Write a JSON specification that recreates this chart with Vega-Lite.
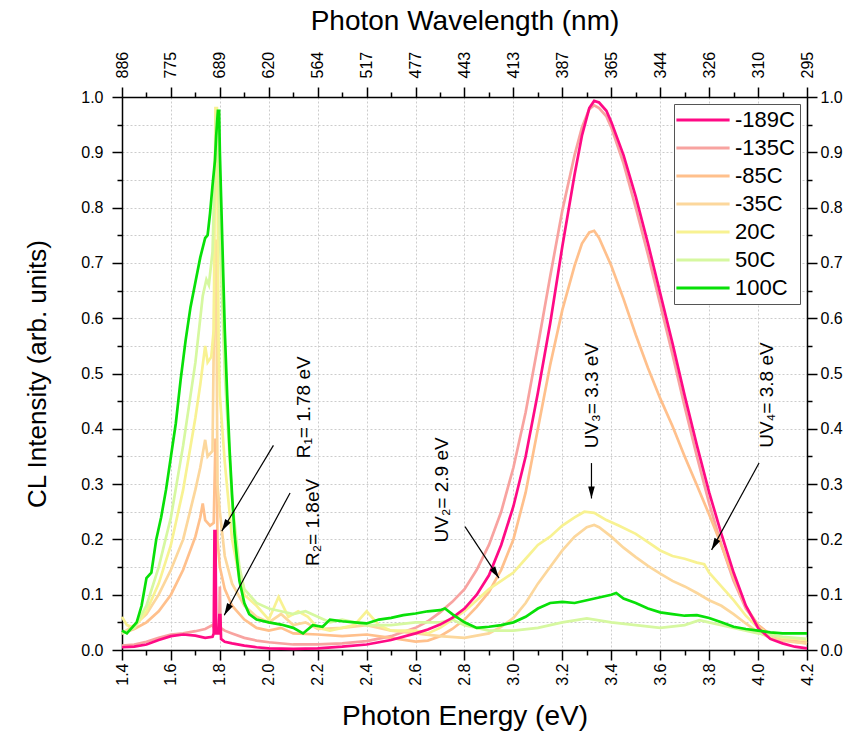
{
 "$schema": "https://vega.github.io/schema/vega-lite/v6.json",
 "width": 685,
 "height": 553,
 "autosize": {"type": "none"},
 "padding": {"left": 122, "top": 97, "right": 46, "bottom": 83},
 "background": "white",
 "config": {
  "font": "Liberation Sans",
  "view": {"stroke": null},
  "axis": {"labelFont": "Liberation Sans", "titleFont": "Liberation Sans", "labelColor": "black", "titleColor": "black", "titleFontWeight": "normal", "domainColor": "black", "tickColor": "black", "labelFontSize": 16, "grid": false, "domainWidth": 1.5, "tickWidth": 1.5, "zindex": 1}
 },
 "datasets": {
  "spectra": [
   {"s":"-135C","e":1.40,"i":0.008},{"s":"-135C","e":1.45,"i":0.010},{"s":"-135C","e":1.50,"i":0.015},{"s":"-135C","e":1.55,"i":0.022},{"s":"-135C","e":1.60,"i":0.028},{"s":"-135C","e":1.65,"i":0.030},{"s":"-135C","e":1.70,"i":0.034},{"s":"-135C","e":1.74,"i":0.038},{"s":"-135C","e":1.77,"i":0.045},{"s":"-135C","e":1.78,"i":0.036},{"s":"-135C","e":1.79,"i":0.040},{"s":"-135C","e":1.797,"i":0.040},{"s":"-135C","e":1.80,"i":0.115},{"s":"-135C","e":1.803,"i":0.040},{"s":"-135C","e":1.82,"i":0.035},{"s":"-135C","e":1.85,"i":0.030},{"s":"-135C","e":1.90,"i":0.022},{"s":"-135C","e":1.95,"i":0.017},{"s":"-135C","e":2.00,"i":0.014},{"s":"-135C","e":2.10,"i":0.010},{"s":"-135C","e":2.20,"i":0.010},{"s":"-135C","e":2.30,"i":0.012},{"s":"-135C","e":2.40,"i":0.016},{"s":"-135C","e":2.50,"i":0.025},{"s":"-135C","e":2.60,"i":0.040},{"s":"-135C","e":2.65,"i":0.052},{"s":"-135C","e":2.70,"i":0.068},{"s":"-135C","e":2.75,"i":0.087},{"s":"-135C","e":2.80,"i":0.110},{"s":"-135C","e":2.85,"i":0.145},{"s":"-135C","e":2.90,"i":0.190},{"s":"-135C","e":2.95,"i":0.250},{"s":"-135C","e":3.00,"i":0.330},{"s":"-135C","e":3.05,"i":0.430},{"s":"-135C","e":3.10,"i":0.550},{"s":"-135C","e":3.15,"i":0.675},{"s":"-135C","e":3.20,"i":0.795},{"s":"-135C","e":3.25,"i":0.895},{"s":"-135C","e":3.28,"i":0.945},{"s":"-135C","e":3.31,"i":0.978},{"s":"-135C","e":3.33,"i":0.985},{"s":"-135C","e":3.35,"i":0.980},{"s":"-135C","e":3.38,"i":0.965},{"s":"-135C","e":3.40,"i":0.945},{"s":"-135C","e":3.45,"i":0.880},{"s":"-135C","e":3.50,"i":0.800},{"s":"-135C","e":3.55,"i":0.715},{"s":"-135C","e":3.60,"i":0.625},{"s":"-135C","e":3.65,"i":0.535},{"s":"-135C","e":3.70,"i":0.440},{"s":"-135C","e":3.75,"i":0.350},{"s":"-135C","e":3.80,"i":0.265},{"s":"-135C","e":3.85,"i":0.190},{"s":"-135C","e":3.90,"i":0.125},{"s":"-135C","e":3.95,"i":0.075},{"s":"-135C","e":4.00,"i":0.045},{"s":"-135C","e":4.05,"i":0.028},{"s":"-135C","e":4.10,"i":0.020},{"s":"-135C","e":4.15,"i":0.016},{"s":"-135C","e":4.20,"i":0.013},

   {"s":"-85C","e":1.40,"i":0.030},{"s":"-85C","e":1.45,"i":0.038},{"s":"-85C","e":1.50,"i":0.050},{"s":"-85C","e":1.55,"i":0.070},{"s":"-85C","e":1.60,"i":0.100},{"s":"-85C","e":1.65,"i":0.145},{"s":"-85C","e":1.70,"i":0.205},{"s":"-85C","e":1.72,"i":0.240},{"s":"-85C","e":1.73,"i":0.265},{"s":"-85C","e":1.74,"i":0.235},{"s":"-85C","e":1.76,"i":0.225},{"s":"-85C","e":1.775,"i":0.230},{"s":"-85C","e":1.782,"i":0.380},{"s":"-85C","e":1.787,"i":0.380},{"s":"-85C","e":1.79,"i":0.200},{"s":"-85C","e":1.80,"i":0.150},{"s":"-85C","e":1.82,"i":0.110},{"s":"-85C","e":1.85,"i":0.080},{"s":"-85C","e":1.90,"i":0.055},{"s":"-85C","e":1.95,"i":0.040},{"s":"-85C","e":2.00,"i":0.035},{"s":"-85C","e":2.05,"i":0.040},{"s":"-85C","e":2.10,"i":0.030},{"s":"-85C","e":2.20,"i":0.028},{"s":"-85C","e":2.30,"i":0.025},{"s":"-85C","e":2.40,"i":0.028},{"s":"-85C","e":2.50,"i":0.022},{"s":"-85C","e":2.60,"i":0.015},{"s":"-85C","e":2.65,"i":0.017},{"s":"-85C","e":2.70,"i":0.025},{"s":"-85C","e":2.75,"i":0.038},{"s":"-85C","e":2.80,"i":0.055},{"s":"-85C","e":2.85,"i":0.078},{"s":"-85C","e":2.90,"i":0.105},{"s":"-85C","e":2.95,"i":0.145},{"s":"-85C","e":3.00,"i":0.200},{"s":"-85C","e":3.05,"i":0.285},{"s":"-85C","e":3.10,"i":0.400},{"s":"-85C","e":3.15,"i":0.515},{"s":"-85C","e":3.20,"i":0.615},{"s":"-85C","e":3.25,"i":0.695},{"s":"-85C","e":3.28,"i":0.735},{"s":"-85C","e":3.31,"i":0.755},{"s":"-85C","e":3.33,"i":0.758},{"s":"-85C","e":3.35,"i":0.745},{"s":"-85C","e":3.40,"i":0.695},{"s":"-85C","e":3.45,"i":0.635},{"s":"-85C","e":3.50,"i":0.570},{"s":"-85C","e":3.55,"i":0.510},{"s":"-85C","e":3.60,"i":0.455},{"s":"-85C","e":3.65,"i":0.405},{"s":"-85C","e":3.70,"i":0.350},{"s":"-85C","e":3.75,"i":0.298},{"s":"-85C","e":3.80,"i":0.245},{"s":"-85C","e":3.85,"i":0.190},{"s":"-85C","e":3.90,"i":0.130},{"s":"-85C","e":3.95,"i":0.078},{"s":"-85C","e":4.00,"i":0.045},{"s":"-85C","e":4.05,"i":0.028},{"s":"-85C","e":4.10,"i":0.020},{"s":"-85C","e":4.15,"i":0.015},{"s":"-85C","e":4.20,"i":0.012},

   {"s":"-35C","e":1.40,"i":0.030},{"s":"-35C","e":1.45,"i":0.045},{"s":"-35C","e":1.50,"i":0.065},{"s":"-35C","e":1.55,"i":0.100},{"s":"-35C","e":1.60,"i":0.145},{"s":"-35C","e":1.65,"i":0.200},{"s":"-35C","e":1.70,"i":0.290},{"s":"-35C","e":1.72,"i":0.330},{"s":"-35C","e":1.74,"i":0.380},{"s":"-35C","e":1.75,"i":0.350},{"s":"-35C","e":1.77,"i":0.360},{"s":"-35C","e":1.78,"i":0.740},{"s":"-35C","e":1.785,"i":0.740},{"s":"-35C","e":1.79,"i":0.300},{"s":"-35C","e":1.80,"i":0.250},{"s":"-35C","e":1.82,"i":0.170},{"s":"-35C","e":1.85,"i":0.120},{"s":"-35C","e":1.90,"i":0.080},{"s":"-35C","e":1.95,"i":0.060},{"s":"-35C","e":2.00,"i":0.050},{"s":"-35C","e":2.05,"i":0.065},{"s":"-35C","e":2.10,"i":0.045},{"s":"-35C","e":2.15,"i":0.050},{"s":"-35C","e":2.20,"i":0.038},{"s":"-35C","e":2.30,"i":0.040},{"s":"-35C","e":2.40,"i":0.045},{"s":"-35C","e":2.50,"i":0.035},{"s":"-35C","e":2.60,"i":0.030},{"s":"-35C","e":2.70,"i":0.025},{"s":"-35C","e":2.80,"i":0.022},{"s":"-35C","e":2.90,"i":0.030},{"s":"-35C","e":2.95,"i":0.042},{"s":"-35C","e":3.00,"i":0.058},{"s":"-35C","e":3.05,"i":0.085},{"s":"-35C","e":3.10,"i":0.120},{"s":"-35C","e":3.15,"i":0.150},{"s":"-35C","e":3.20,"i":0.180},{"s":"-35C","e":3.25,"i":0.205},{"s":"-35C","e":3.30,"i":0.222},{"s":"-35C","e":3.33,"i":0.226},{"s":"-35C","e":3.35,"i":0.222},{"s":"-35C","e":3.40,"i":0.205},{"s":"-35C","e":3.45,"i":0.185},{"s":"-35C","e":3.50,"i":0.168},{"s":"-35C","e":3.55,"i":0.152},{"s":"-35C","e":3.60,"i":0.138},{"s":"-35C","e":3.65,"i":0.125},{"s":"-35C","e":3.70,"i":0.115},{"s":"-35C","e":3.75,"i":0.103},{"s":"-35C","e":3.80,"i":0.090},{"s":"-35C","e":3.85,"i":0.080},{"s":"-35C","e":3.90,"i":0.065},{"s":"-35C","e":3.95,"i":0.048},{"s":"-35C","e":4.00,"i":0.032},{"s":"-35C","e":4.05,"i":0.022},{"s":"-35C","e":4.10,"i":0.017},{"s":"-35C","e":4.15,"i":0.014},{"s":"-35C","e":4.20,"i":0.012},

   {"s":"20C","e":1.40,"i":0.060},{"s":"20C","e":1.42,"i":0.045},{"s":"20C","e":1.45,"i":0.040},{"s":"20C","e":1.50,"i":0.070},{"s":"20C","e":1.55,"i":0.120},{"s":"20C","e":1.60,"i":0.190},{"s":"20C","e":1.65,"i":0.290},{"s":"20C","e":1.70,"i":0.420},{"s":"20C","e":1.72,"i":0.480},{"s":"20C","e":1.74,"i":0.550},{"s":"20C","e":1.75,"i":0.520},{"s":"20C","e":1.765,"i":0.530},{"s":"20C","e":1.775,"i":0.580},{"s":"20C","e":1.782,"i":0.980},{"s":"20C","e":1.788,"i":0.980},{"s":"20C","e":1.795,"i":0.550},{"s":"20C","e":1.80,"i":0.460},{"s":"20C","e":1.82,"i":0.340},{"s":"20C","e":1.85,"i":0.200},{"s":"20C","e":1.88,"i":0.130},{"s":"20C","e":1.90,"i":0.100},{"s":"20C","e":1.95,"i":0.080},{"s":"20C","e":2.00,"i":0.055},{"s":"20C","e":2.04,"i":0.096},{"s":"20C","e":2.08,"i":0.060},{"s":"20C","e":2.12,"i":0.070},{"s":"20C","e":2.16,"i":0.060},{"s":"20C","e":2.20,"i":0.040},{"s":"20C","e":2.25,"i":0.035},{"s":"20C","e":2.30,"i":0.040},{"s":"20C","e":2.35,"i":0.045},{"s":"20C","e":2.40,"i":0.070},{"s":"20C","e":2.45,"i":0.045},{"s":"20C","e":2.50,"i":0.035},{"s":"20C","e":2.60,"i":0.035},{"s":"20C","e":2.65,"i":0.030},{"s":"20C","e":2.70,"i":0.040},{"s":"20C","e":2.75,"i":0.055},{"s":"20C","e":2.80,"i":0.070},{"s":"20C","e":2.85,"i":0.090},{"s":"20C","e":2.90,"i":0.110},{"s":"20C","e":2.95,"i":0.125},{"s":"20C","e":3.00,"i":0.140},{"s":"20C","e":3.05,"i":0.165},{"s":"20C","e":3.10,"i":0.190},{"s":"20C","e":3.15,"i":0.205},{"s":"20C","e":3.20,"i":0.225},{"s":"20C","e":3.25,"i":0.240},{"s":"20C","e":3.29,"i":0.250},{"s":"20C","e":3.33,"i":0.248},{"s":"20C","e":3.38,"i":0.235},{"s":"20C","e":3.43,"i":0.225},{"s":"20C","e":3.50,"i":0.210},{"s":"20C","e":3.55,"i":0.195},{"s":"20C","e":3.60,"i":0.180},{"s":"20C","e":3.65,"i":0.170},{"s":"20C","e":3.70,"i":0.165},{"s":"20C","e":3.75,"i":0.158},{"s":"20C","e":3.78,"i":0.155},{"s":"20C","e":3.80,"i":0.140},{"s":"20C","e":3.85,"i":0.115},{"s":"20C","e":3.90,"i":0.090},{"s":"20C","e":3.95,"i":0.062},{"s":"20C","e":4.00,"i":0.040},{"s":"20C","e":4.05,"i":0.028},{"s":"20C","e":4.10,"i":0.022},{"s":"20C","e":4.15,"i":0.020},{"s":"20C","e":4.20,"i":0.018},

   {"s":"50C","e":1.40,"i":0.030},{"s":"50C","e":1.45,"i":0.040},{"s":"50C","e":1.50,"i":0.080},{"s":"50C","e":1.55,"i":0.150},{"s":"50C","e":1.60,"i":0.240},{"s":"50C","e":1.65,"i":0.370},{"s":"50C","e":1.70,"i":0.520},{"s":"50C","e":1.73,"i":0.640},{"s":"50C","e":1.745,"i":0.670},{"s":"50C","e":1.755,"i":0.660},{"s":"50C","e":1.77,"i":0.720},{"s":"50C","e":1.785,"i":0.960},{"s":"50C","e":1.79,"i":0.970},{"s":"50C","e":1.80,"i":0.750},{"s":"50C","e":1.82,"i":0.500},{"s":"50C","e":1.85,"i":0.270},{"s":"50C","e":1.88,"i":0.150},{"s":"50C","e":1.90,"i":0.110},{"s":"50C","e":1.95,"i":0.085},{"s":"50C","e":2.00,"i":0.075},{"s":"50C","e":2.05,"i":0.070},{"s":"50C","e":2.10,"i":0.065},{"s":"50C","e":2.15,"i":0.070},{"s":"50C","e":2.20,"i":0.060},{"s":"50C","e":2.25,"i":0.050},{"s":"50C","e":2.30,"i":0.055},{"s":"50C","e":2.35,"i":0.050},{"s":"50C","e":2.40,"i":0.045},{"s":"50C","e":2.50,"i":0.045},{"s":"50C","e":2.60,"i":0.050},{"s":"50C","e":2.70,"i":0.050},{"s":"50C","e":2.75,"i":0.055},{"s":"50C","e":2.80,"i":0.045},{"s":"50C","e":2.90,"i":0.035},{"s":"50C","e":3.00,"i":0.035},{"s":"50C","e":3.10,"i":0.040},{"s":"50C","e":3.20,"i":0.050},{"s":"50C","e":3.30,"i":0.057},{"s":"50C","e":3.40,"i":0.050},{"s":"50C","e":3.50,"i":0.045},{"s":"50C","e":3.60,"i":0.040},{"s":"50C","e":3.70,"i":0.045},{"s":"50C","e":3.76,"i":0.054},{"s":"50C","e":3.80,"i":0.050},{"s":"50C","e":3.90,"i":0.040},{"s":"50C","e":4.00,"i":0.030},{"s":"50C","e":4.10,"i":0.024},{"s":"50C","e":4.20,"i":0.020},

   {"s":"-189C","e":1.40,"i":0.005},{"s":"-189C","e":1.45,"i":0.006},{"s":"-189C","e":1.50,"i":0.010},{"s":"-189C","e":1.55,"i":0.018},{"s":"-189C","e":1.60,"i":0.025},{"s":"-189C","e":1.65,"i":0.028},{"s":"-189C","e":1.70,"i":0.026},{"s":"-189C","e":1.74,"i":0.022},{"s":"-189C","e":1.77,"i":0.024},{"s":"-189C","e":1.775,"i":0.030},{"s":"-189C","e":1.778,"i":0.215},{"s":"-189C","e":1.782,"i":0.215},{"s":"-189C","e":1.785,"i":0.030},{"s":"-189C","e":1.795,"i":0.030},{"s":"-189C","e":1.798,"i":0.063},{"s":"-189C","e":1.802,"i":0.063},{"s":"-189C","e":1.805,"i":0.020},{"s":"-189C","e":1.82,"i":0.015},{"s":"-189C","e":1.85,"i":0.012},{"s":"-189C","e":1.90,"i":0.008},{"s":"-189C","e":1.95,"i":0.005},{"s":"-189C","e":2.00,"i":0.003},{"s":"-189C","e":2.10,"i":0.002},{"s":"-189C","e":2.20,"i":0.003},{"s":"-189C","e":2.30,"i":0.006},{"s":"-189C","e":2.40,"i":0.010},{"s":"-189C","e":2.50,"i":0.018},{"s":"-189C","e":2.60,"i":0.030},{"s":"-189C","e":2.65,"i":0.037},{"s":"-189C","e":2.70,"i":0.046},{"s":"-189C","e":2.75,"i":0.058},{"s":"-189C","e":2.80,"i":0.075},{"s":"-189C","e":2.85,"i":0.100},{"s":"-189C","e":2.90,"i":0.135},{"s":"-189C","e":2.95,"i":0.190},{"s":"-189C","e":3.00,"i":0.260},{"s":"-189C","e":3.05,"i":0.350},{"s":"-189C","e":3.10,"i":0.465},{"s":"-189C","e":3.15,"i":0.590},{"s":"-189C","e":3.20,"i":0.730},{"s":"-189C","e":3.25,"i":0.860},{"s":"-189C","e":3.28,"i":0.930},{"s":"-189C","e":3.31,"i":0.980},{"s":"-189C","e":3.33,"i":0.993},{"s":"-189C","e":3.35,"i":0.990},{"s":"-189C","e":3.38,"i":0.975},{"s":"-189C","e":3.40,"i":0.955},{"s":"-189C","e":3.45,"i":0.895},{"s":"-189C","e":3.50,"i":0.820},{"s":"-189C","e":3.55,"i":0.735},{"s":"-189C","e":3.60,"i":0.645},{"s":"-189C","e":3.65,"i":0.555},{"s":"-189C","e":3.70,"i":0.460},{"s":"-189C","e":3.75,"i":0.370},{"s":"-189C","e":3.80,"i":0.285},{"s":"-189C","e":3.85,"i":0.210},{"s":"-189C","e":3.90,"i":0.140},{"s":"-189C","e":3.95,"i":0.080},{"s":"-189C","e":4.00,"i":0.040},{"s":"-189C","e":4.05,"i":0.020},{"s":"-189C","e":4.10,"i":0.012},{"s":"-189C","e":4.15,"i":0.006},{"s":"-189C","e":4.20,"i":0.003},

   {"s":"100C","e":1.40,"i":0.035},{"s":"100C","e":1.42,"i":0.030},{"s":"100C","e":1.44,"i":0.040},{"s":"100C","e":1.46,"i":0.050},{"s":"100C","e":1.48,"i":0.080},{"s":"100C","e":1.50,"i":0.130},{"s":"100C","e":1.52,"i":0.140},{"s":"100C","e":1.54,"i":0.200},{"s":"100C","e":1.56,"i":0.240},{"s":"100C","e":1.58,"i":0.290},{"s":"100C","e":1.60,"i":0.350},{"s":"100C","e":1.62,"i":0.410},{"s":"100C","e":1.64,"i":0.490},{"s":"100C","e":1.66,"i":0.560},{"s":"100C","e":1.68,"i":0.620},{"s":"100C","e":1.70,"i":0.665},{"s":"100C","e":1.72,"i":0.710},{"s":"100C","e":1.74,"i":0.745},{"s":"100C","e":1.75,"i":0.750},{"s":"100C","e":1.76,"i":0.790},{"s":"100C","e":1.77,"i":0.840},{"s":"100C","e":1.78,"i":0.885},{"s":"100C","e":1.785,"i":0.930},{"s":"100C","e":1.792,"i":0.975},{"s":"100C","e":1.797,"i":0.975},{"s":"100C","e":1.80,"i":0.900},{"s":"100C","e":1.81,"i":0.740},{"s":"100C","e":1.82,"i":0.580},{"s":"100C","e":1.83,"i":0.460},{"s":"100C","e":1.84,"i":0.360},{"s":"100C","e":1.85,"i":0.280},{"s":"100C","e":1.86,"i":0.210},{"s":"100C","e":1.87,"i":0.165},{"s":"100C","e":1.88,"i":0.125},{"s":"100C","e":1.90,"i":0.085},{"s":"100C","e":1.92,"i":0.065},{"s":"100C","e":1.95,"i":0.055},{"s":"100C","e":2.00,"i":0.050},{"s":"100C","e":2.05,"i":0.046},{"s":"100C","e":2.10,"i":0.040},{"s":"100C","e":2.14,"i":0.030},{"s":"100C","e":2.18,"i":0.045},{"s":"100C","e":2.22,"i":0.042},{"s":"100C","e":2.25,"i":0.055},{"s":"100C","e":2.30,"i":0.052},{"s":"100C","e":2.35,"i":0.050},{"s":"100C","e":2.40,"i":0.048},{"s":"100C","e":2.45,"i":0.055},{"s":"100C","e":2.50,"i":0.058},{"s":"100C","e":2.55,"i":0.063},{"s":"100C","e":2.60,"i":0.066},{"s":"100C","e":2.65,"i":0.070},{"s":"100C","e":2.70,"i":0.072},{"s":"100C","e":2.72,"i":0.075},{"s":"100C","e":2.75,"i":0.065},{"s":"100C","e":2.80,"i":0.050},{"s":"100C","e":2.85,"i":0.040},{"s":"100C","e":2.90,"i":0.042},{"s":"100C","e":2.95,"i":0.045},{"s":"100C","e":3.00,"i":0.050},{"s":"100C","e":3.05,"i":0.060},{"s":"100C","e":3.10,"i":0.075},{"s":"100C","e":3.15,"i":0.085},{"s":"100C","e":3.20,"i":0.087},{"s":"100C","e":3.25,"i":0.085},{"s":"100C","e":3.30,"i":0.090},{"s":"100C","e":3.35,"i":0.095},{"s":"100C","e":3.40,"i":0.100},{"s":"100C","e":3.42,"i":0.103},{"s":"100C","e":3.45,"i":0.093},{"s":"100C","e":3.50,"i":0.085},{"s":"100C","e":3.55,"i":0.075},{"s":"100C","e":3.60,"i":0.068},{"s":"100C","e":3.65,"i":0.065},{"s":"100C","e":3.70,"i":0.062},{"s":"100C","e":3.75,"i":0.063},{"s":"100C","e":3.80,"i":0.058},{"s":"100C","e":3.85,"i":0.050},{"s":"100C","e":3.90,"i":0.042},{"s":"100C","e":3.95,"i":0.038},{"s":"100C","e":4.00,"i":0.035},{"s":"100C","e":4.05,"i":0.032},{"s":"100C","e":4.10,"i":0.030},{"s":"100C","e":4.15,"i":0.030},{"s":"100C","e":4.20,"i":0.030}
  ],
  "notes": [
   {"t":"R₁= 1.78 eV","e":2.1445,"i":0.4388},
   {"t":"R₂= 1.8eV","e":2.181,"i":0.2307},
   {"t":"UV₂= 2.9 eV","e":2.707,"i":0.2895},
   {"t":"UV₃= 3.3 eV","e":3.321,"i":0.46},
   {"t":"UV₄= 3.8 eV","e":4.035,"i":0.461}
  ],
  "arrows": [
   {"a":"R1","e":2.019,"i":0.37,"e2":1.808,"i2":0.215},
   {"a":"R2","e":2.087,"i":0.284,"e2":1.818,"i2":0.063},
   {"a":"UV2","e":2.802,"i":0.223,"e2":2.941,"i2":0.13},
   {"a":"UV3","e":3.319,"i":0.338,"e2":3.319,"i2":0.274},
   {"a":"UV4","e":4.004,"i":0.338,"e2":3.81,"i2":0.181}
  ]
 },
 "layer": [
  {
   "data": {"name": "spectra"},
   "mark": {"type": "line", "strokeWidth": 2.7},
   "encoding": {
    "x": {"field": "e", "type": "quantitative", "scale": {"domain": [1.4, 4.2], "nice": false, "zero": false},
     "axis": {"orient": "bottom", "values": [1.4,1.6,1.8,2.0,2.2,2.4,2.6,2.8,3.0,3.2,3.4,3.6,3.8,4.0,4.2], "format": ".1f", "labelAngle": 270, "labelPadding": 3, "tickSize": 10, "title": "Photon Energy (eV)", "titleFontSize": 28, "titlePadding": 17}},
    "y": {"field": "i", "type": "quantitative", "scale": {"domain": [0, 1], "nice": false, "zero": false},
     "axis": {"orient": "left", "values": [0,0.1,0.2,0.3,0.4,0.5,0.6,0.7,0.8,0.9,1.0], "format": ".1f", "labelPadding": 9, "tickSize": 10, "title": "CL Intensity (arb. units)", "titleFontSize": 26, "titlePadding": 30}},
    "color": {"field": "s", "type": "nominal",
     "scale": {"domain": ["-189C","-135C","-85C","-35C","20C","50C","100C"], "range": ["#ff0a85","#f8a3a0","#ffc08c","#fcd79c","#f8f292","#d6f8a0","#08e008"]},
     "legend": {"title": null, "orient": "top-right", "offset": 7, "padding": 5, "strokeColor": "#555555", "fillColor": "white", "labelFontSize": 22, "labelFont": "Liberation Sans", "labelColor": "black", "symbolType": "M-2.8,0L2.8,0", "symbolSize": 361, "symbolStrokeWidth": 3, "symbolOffset": 13, "labelOffset": 21, "rowPadding": 6}}
   }
  },
  {
   "data": {"name": "notes"},
   "mark": {"type": "text", "angle": 270, "fontSize": 19, "font": "Liberation Sans", "color": "black", "align": "center", "baseline": "middle"},
   "encoding": {
    "x": {"field": "e", "type": "quantitative",
     "axis": {"orient": "top", "values": [1.4,1.6,1.8,2.0,2.2,2.4,2.6,2.8,3.0,3.2,3.4,3.6,3.8,4.0,4.2], "labelExpr": "toString(round(1239.84/datum.value))", "labelAngle": 270, "labelPadding": 9, "tickSize": 10, "title": "Photon Wavelength (nm)", "titleFontSize": 28, "titlePadding": 16}},
    "y": {"field": "i", "type": "quantitative",
     "axis": {"orient": "right", "values": [0,0.1,0.2,0.3,0.4,0.5,0.6,0.7,0.8,0.9,1.0], "format": ".1f", "labelPadding": 3, "tickSize": 10, "title": null}},
    "text": {"field": "t"}
   }
  },
  {
   "data": {"name": "arrows"},
   "mark": {"type": "rule", "color": "black", "strokeWidth": 1.2},
   "encoding": {
    "x": {"field": "e", "type": "quantitative",
     "axis": {"orient": "bottom", "values": [1.5,1.7,1.9,2.1,2.3,2.5,2.7,2.9,3.1,3.3,3.5,3.7,3.9,4.1], "labels": false, "domain": false, "tickSize": 5, "title": null}},
    "y": {"field": "i", "type": "quantitative",
     "axis": {"orient": "left", "values": [0.05,0.15,0.25,0.35,0.45,0.55,0.65,0.75,0.85,0.95], "labels": false, "domain": false, "tickSize": 5, "title": null}},
    "x2": {"field": "e2"},
    "y2": {"field": "i2"}
   }
  },
  {
   "data": {"name": "arrows"},
   "transform": [{"filter": "datum.a === 'R1'"}],
   "mark": {"type": "point", "shape": "M0,0L-0.55,2L0.55,2Z", "size": 144, "angle": 211, "filled": true, "color": "black", "opacity": 1},
   "encoding": {
    "x": {"field": "e2", "type": "quantitative",
     "axis": {"orient": "top", "values": [1.5,1.7,1.9,2.1,2.3,2.5,2.7,2.9,3.1,3.3,3.5,3.7,3.9,4.1], "labels": false, "domain": false, "tickSize": 5, "title": null}},
    "y": {"field": "i2", "type": "quantitative",
     "axis": {"orient": "right", "values": [0.05,0.15,0.25,0.35,0.45,0.55,0.65,0.75,0.85,0.95], "labels": false, "domain": false, "tickSize": 5, "title": null}}
   }
  },
  {
   "data": {"name": "arrows"},
   "transform": [{"filter": "datum.a === 'R2'"}],
   "mark": {"type": "point", "shape": "M0,0L-0.55,2L0.55,2Z", "size": 144, "angle": 208.5, "filled": true, "color": "black", "opacity": 1},
   "encoding": {
    "x": {"field": "e2", "type": "quantitative",
     "axis": {"orient": "bottom", "values": [1.4,1.6,1.8,2.0,2.2,2.4,2.6,2.8,3.0,3.2,3.4,3.6,3.8,4.0,4.2], "labels": false, "domain": false, "ticks": false, "grid": true, "gridColor": "#cccccc", "gridDash": [2,2], "gridWidth": 1, "title": null, "zindex": 0}},
    "y": {"field": "i2", "type": "quantitative",
     "axis": {"orient": "left", "values": [0.05,0.1,0.15,0.2,0.25,0.3,0.35,0.4,0.45,0.5,0.55,0.6,0.65,0.7,0.75,0.8,0.85,0.9,0.95], "labels": false, "domain": false, "ticks": false, "grid": true, "gridColor": "#cccccc", "gridDash": [2,2], "gridWidth": 1, "title": null, "zindex": 0}}
   }
  },
  {
   "data": {"name": "arrows"},
   "transform": [{"filter": "datum.a === 'UV2'"}],
   "mark": {"type": "point", "shape": "M0,0L-0.55,2L0.55,2Z", "size": 144, "angle": 146.6, "filled": true, "color": "black", "opacity": 1},
   "encoding": {
    "x": {"field": "e2", "type": "quantitative", "axis": null},
    "y": {"field": "i2", "type": "quantitative", "axis": null}
   }
  },
  {
   "data": {"name": "arrows"},
   "transform": [{"filter": "datum.a === 'UV3'"}],
   "mark": {"type": "point", "shape": "M0,0L-0.55,2L0.55,2Z", "size": 144, "angle": 180, "filled": true, "color": "black", "opacity": 1},
   "encoding": {
    "x": {"field": "e2", "type": "quantitative", "axis": null},
    "y": {"field": "i2", "type": "quantitative", "axis": null}
   }
  },
  {
   "data": {"name": "arrows"},
   "transform": [{"filter": "datum.a === 'UV4'"}],
   "mark": {"type": "point", "shape": "M0,0L-0.55,2L0.55,2Z", "size": 144, "angle": 208.8, "filled": true, "color": "black", "opacity": 1},
   "encoding": {
    "x": {"field": "e2", "type": "quantitative", "axis": null},
    "y": {"field": "i2", "type": "quantitative", "axis": null}
   }
  }
 ],
 "resolve": {"axis": {"x": "independent", "y": "independent"}}
}
